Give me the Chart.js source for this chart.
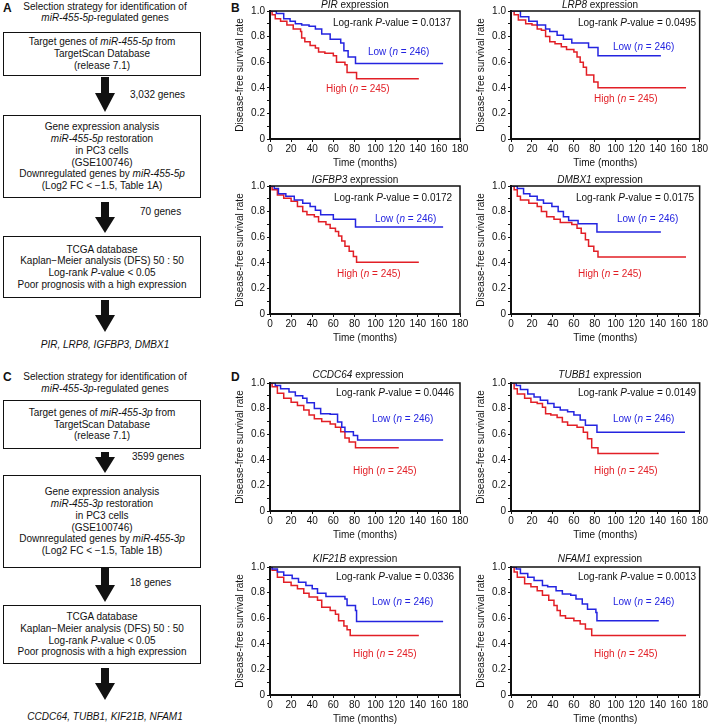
<!DOCTYPE html>
<html>
<head>
<meta charset="utf-8">
<script src="https://cdn.jsdelivr.net/npm/chart.js"></script>
<style>
  body { margin: 0; width: 709px; height: 724px; overflow: hidden; background: #fff; position: relative;
         font-family: "Liberation Sans", Arial, Helvetica, sans-serif; font-size: 10px; color: #111; }
  .t { position: absolute; white-space: nowrap; line-height: 12px; }
  .c { transform: translate(-50%, -50%); text-align: center; }
  .l { transform: translateY(-50%); }
  .box { position: absolute; left: 3px; width: 198px; border: 1.5px solid #111; box-sizing: border-box;
         display: flex; flex-direction: column; justify-content: center; align-items: center; line-height: 11.7px; white-space: nowrap; }
  .panel { position: absolute; font-weight: bold; font-size: 12px; line-height: 12px; }
  .wrap { position: absolute; }
</style>
</head>
<body>
<!-- left column: selection flowcharts -->
<div class="panel" style="left:3px;top:2px">A</div>
<div class="t c" style="left:105px;top:7px">Selection strategy for identification of</div>
<div class="t c" style="left:105px;top:18px"><i>miR-455-5p</i>-regulated genes</div>
<div class="box" style="top:32px;height:44px">
  <div>Target genes of <i>miR-455-5p</i> from</div><div>TargetScan Database</div><div>(release 7.1)</div>
</div>
<div class="t l" style="left:130px;top:95px">3,032 genes</div>
<div class="box" style="top:115px;height:83px">
  <div>Gene expression analysis</div><div><i>miR-455-5p</i> restoration</div><div>in PC3 cells</div>
  <div>(GSE100746)</div><div>Downregulated genes by <i>miR-455-5p</i></div><div>(Log2 FC &lt; −1.5, Table 1A)</div>
</div>
<div class="t l" style="left:140px;top:212px">70 genes</div>
<div class="box" style="top:236px;height:62px">
  <div>TCGA database</div><div>Kaplan−Meier analysis (DFS) 50 : 50</div>
  <div>Log-rank <i>P</i>-value &lt; 0.05</div><div>Poor prognosis with a high expression</div>
</div>
<div class="t c" style="left:105px;top:345px"><i>PIR, LRP8, IGFBP3, DMBX1</i></div>

<div class="panel" style="left:3px;top:371px">C</div>
<div class="t c" style="left:105px;top:377px">Selection strategy for identification of</div>
<div class="t c" style="left:105px;top:389px"><i>miR-455-3p</i>-regulated genes</div>
<div class="box" style="top:400px;height:49px">
  <div>Target genes of <i>miR-455-3p</i> from</div><div>TargetScan Database</div><div>(release 7.1)</div>
</div>
<div class="t l" style="left:132px;top:457px">3599 genes</div>
<div class="box" style="top:475px;height:93px">
  <div>Gene expression analysis</div><div><i>miR-455-3p</i> restoration</div><div>in PC3 cells</div>
  <div>(GSE100746)</div><div>Downregulated genes by <i>miR-455-3p</i></div><div>(Log2 FC &lt; −1.5, Table 1B)</div>
</div>
<div class="t l" style="left:130px;top:583px">18 genes</div>
<div class="box" style="top:605px;height:59px">
  <div>TCGA database</div><div>Kaplan−Meier analysis (DFS) 50 : 50</div>
  <div>Log-rank <i>P</i>-value &lt; 0.05</div><div>Poor prognosis with a high expression</div>
</div>
<div class="t c" style="left:105px;top:717px"><i>CCDC64, TUBB1, KIF21B, NFAM1</i></div>

<svg id="arrows" width="210" height="724" style="position:absolute;left:0;top:0"></svg>

<div class="panel" style="left:231px;top:2px">B</div>
<div class="panel" style="left:231px;top:371px">D</div>

<script>
// Kaplan-Meier curves: [months, survival]
const pirLow = [[0,1],[6,0.98],[13,0.94],[19,0.92],[24,0.90],[30,0.89],[37,0.88],[43,0.86],[49,0.82],[57,0.78],[67,0.75],[70,0.69],[74,0.64],[81,0.59],[164,0.59]];
const pirHigh = [[0,1],[2,0.97],[5,0.94],[10,0.92],[16,0.89],[22,0.86],[29,0.84],[30,0.79],[33,0.76],[38,0.73],[43,0.71],[46,0.68],[52,0.67],[60,0.65],[63,0.60],[71,0.58],[73,0.52],[82,0.47],[141,0.47]];

const lrp8Low = [[0,1],[9,0.955],[17,0.92],[25,0.89],[33,0.86],[37,0.84],[44,0.81],[50,0.78],[58,0.75],[74,0.715],[83,0.65],[143,0.65]];
const lrp8High = [[0,1],[3,0.97],[7,0.93],[14,0.90],[20,0.89],[25,0.86],[29,0.85],[33,0.80],[37,0.76],[42,0.745],[48,0.72],[53,0.70],[60,0.68],[63,0.64],[66,0.60],[69,0.56],[72,0.50],[79,0.445],[83,0.40],[167,0.40]];

const igfbp3Low = [[0,1],[4,0.98],[8,0.94],[15,0.92],[23,0.89],[31,0.865],[38,0.84],[43,0.81],[48,0.775],[60,0.74],[81,0.68],[164,0.68]];
const igfbp3High = [[0,1],[2,0.97],[7,0.93],[13,0.905],[20,0.88],[26,0.84],[31,0.80],[35,0.775],[42,0.76],[46,0.72],[53,0.70],[57,0.67],[62,0.645],[65,0.61],[68,0.57],[71,0.53],[75,0.49],[79,0.45],[82,0.405],[141,0.405]];

const dmbx1Low = [[0,1],[6,0.98],[12,0.94],[18,0.92],[25,0.89],[31,0.865],[39,0.84],[45,0.80],[50,0.76],[55,0.73],[64,0.705],[82,0.64],[143,0.64]];
const dmbx1High = [[0,1],[3,0.97],[6,0.92],[9,0.89],[17,0.865],[25,0.84],[29,0.80],[34,0.76],[41,0.74],[47,0.715],[58,0.70],[63,0.67],[67,0.63],[71,0.58],[74,0.53],[79,0.49],[83,0.445],[167,0.445]];

const ccdc64Low = [[0,1],[5,0.98],[10,0.955],[18,0.93],[24,0.90],[31,0.88],[35,0.845],[42,0.80],[48,0.76],[57,0.755],[64,0.695],[68,0.655],[71,0.62],[79,0.59],[83,0.555],[164,0.555]];
const ccdc64High = [[0,1],[2,0.97],[7,0.92],[13,0.88],[20,0.85],[26,0.825],[32,0.79],[37,0.75],[42,0.72],[49,0.70],[57,0.68],[62,0.655],[67,0.62],[71,0.57],[75,0.54],[81,0.495],[122,0.495]];

const tubb1Low = [[0,1],[5,0.98],[9,0.95],[16,0.915],[22,0.89],[28,0.865],[35,0.84],[41,0.81],[47,0.79],[54,0.775],[60,0.75],[66,0.71],[71,0.67],[82,0.615],[166,0.615]];
const tubb1High = [[0,1],[3,0.955],[6,0.915],[13,0.88],[19,0.85],[25,0.84],[30,0.81],[33,0.76],[38,0.75],[44,0.73],[49,0.695],[54,0.67],[63,0.655],[69,0.615],[73,0.565],[77,0.495],[83,0.45],[141,0.45]];

const kif21bLow = [[0,1],[2,0.985],[7,0.96],[13,0.935],[21,0.91],[27,0.88],[34,0.855],[40,0.83],[45,0.795],[53,0.77],[71,0.75],[73,0.70],[81,0.66],[82,0.575],[164,0.575]];
const kif21bHigh = [[0,1],[2,0.975],[7,0.92],[13,0.88],[20,0.855],[26,0.83],[32,0.795],[37,0.765],[45,0.74],[49,0.685],[57,0.66],[62,0.63],[65,0.58],[70,0.54],[73,0.51],[76,0.465],[141,0.465]];

const nfam1Low = [[0,1],[5,0.985],[9,0.95],[16,0.92],[22,0.895],[30,0.855],[35,0.845],[43,0.815],[49,0.79],[57,0.78],[62,0.75],[68,0.71],[73,0.67],[81,0.645],[82,0.58],[141,0.58]];
const nfam1High = [[0,1],[3,0.96],[6,0.92],[13,0.87],[19,0.845],[25,0.815],[30,0.78],[36,0.74],[41,0.70],[44,0.66],[47,0.62],[52,0.60],[60,0.58],[66,0.555],[71,0.515],[77,0.465],[167,0.465]];

const genes = ['PIR', 'LRP8', 'IGFBP3', 'DMBX1', 'CCDC64', 'TUBB1', 'KIF21B', 'NFAM1'];
const pValues = ['0.0137', '0.0495', '0.0172', '0.0175', '0.0446', '0.0149', '0.0336', '0.0013'];
const lowCurves = [pirLow, lrp8Low, igfbp3Low, dmbx1Low, ccdc64Low, tubb1Low, kif21bLow, nfam1Low];
const highCurves = [pirHigh, lrp8High, igfbp3High, dmbx1High, ccdc64High, tubb1High, kif21bHigh, nfam1High];
const nLow = 246;
const nHigh = 245;
const xTicks = [0, 20, 40, 60, 80, 100, 120, 140, 160, 180];

const BLUE = '#2424e0';
const RED = '#e21f26';
const INK = '#111';

// arrows between flowchart boxes: [shaft top, head start, tip]
const arrows = [[77, 93, 112], [202, 217, 233], [300, 315, 332], [452, 457, 473], [568, 585, 602], [668, 683, 700]];
const svg = document.getElementById('arrows');
arrows.forEach(([y0, yh, y1]) => {
  const cx = 105;
  const p = document.createElementNS('http://www.w3.org/2000/svg', 'polygon');
  p.setAttribute('points', `${cx - 4},${y0} ${cx + 4},${y0} ${cx + 4},${yh} ${cx + 10},${yh} ${cx},${y1} ${cx - 10},${yh} ${cx - 4},${yh}`);
  p.setAttribute('fill', INK);
  svg.appendChild(p);
});

// chart placement: wrapper left, top, width and right padding
const cols = [{ left: 229, width: 241, pr: 10 }, { left: 470, width: 239, pr: 9 }];
const rowTops = [0, 175, 372, 556];
// text positions for each panel: title centre, log-rank left, low label left, high label left (x, y)
const notes = [
  { title: [355, 5], lr: [333, 23], low: [368, 52], high: [326, 89] },
  { title: [600, 5], lr: [578, 23], low: [613, 47], high: [594, 99] },
  { title: [355, 180], lr: [334, 198], low: [375, 219], high: [337, 274] },
  { title: [600, 180], lr: [576, 198], low: [617, 219], high: [578, 274] },
  { title: [358, 375], lr: [336, 393], low: [372, 419], high: [353, 471] },
  { title: [600, 375], lr: [578, 393], low: [613, 419], high: [594, 471] },
  { title: [355, 559], lr: [336, 577], low: [372, 602], high: [353, 654] },
  { title: [600, 559], lr: [578, 577], low: [613, 602], high: [594, 654] }
];

const framePlugin = {
  id: 'frame',
  afterDatasetsDraw(chart) {
    const { ctx, chartArea: a } = chart;
    ctx.save();
    ctx.strokeStyle = INK;
    ctx.lineWidth = 1.5;
    ctx.strokeRect(a.left, a.top, a.right - a.left, a.bottom - a.top);
    ctx.restore();
  }
};

function addText(html, x, y, cls, color) {
  const d = document.createElement('div');
  d.className = 't ' + cls;
  d.style.left = x + 'px';
  d.style.top = y + 'px';
  if (color) d.style.color = color;
  d.innerHTML = html;
  document.body.appendChild(d);
}

const tickFont = { family: '"Liberation Sans", Arial, sans-serif', size: 10 };

genes.forEach((gene, i) => {
  const col = cols[i % 2];
  const top = rowTops[Math.floor(i / 2)];
  const wrap = document.createElement('div');
  wrap.className = 'wrap';
  wrap.style.left = col.left + 'px';
  wrap.style.top = top + 'px';
  const canvas = document.createElement('canvas');
  canvas.width = col.width;
  canvas.height = 169;
  wrap.appendChild(canvas);
  document.body.appendChild(wrap);

  new Chart(canvas, {
    type: 'line',
    data: {
      datasets: [
        { data: lowCurves[i].map(([x, y]) => ({ x, y })), borderColor: BLUE },
        { data: highCurves[i].map(([x, y]) => ({ x, y })), borderColor: RED }
      ].map(ds => Object.assign(ds, { stepped: 'before', borderWidth: 1.5, pointRadius: 0, fill: false }))
    },
    options: {
      responsive: false,
      animation: false,
      devicePixelRatio: 1,
      layout: { padding: { top: 11, right: col.pr, bottom: 0, left: 0 } },
      plugins: { legend: { display: false }, tooltip: { enabled: false } },
      scales: {
        x: {
          type: 'linear', min: 0, max: 180,
          afterBuildTicks: s => { s.ticks = xTicks.map(v => ({ value: v })); },
          ticks: { color: INK, font: tickFont, padding: 1, maxRotation: 0, autoSkip: false },
          grid: { drawOnChartArea: false, tickLength: 3, color: INK },
          border: { color: INK, width: 2 },
          title: { display: true, text: 'Time (months)', color: INK, font: tickFont, padding: { top: 0, bottom: 0 } },
          afterFit: s => { s.height = 30; }
        },
        y: {
          min: 0, max: 1,
          ticks: {
            stepSize: 0.1, autoSkip: false, color: INK, font: tickFont, padding: 2,
            callback: v => {
              const k = Math.round(v * 10);
              if (k % 2) return '';
              return k === 0 ? '0' : (k / 10).toFixed(1);
            }
          },
          grid: { drawOnChartArea: false, tickLength: 3, color: INK },
          border: { color: INK, width: 2 },
          title: { display: true, text: 'Disease-free survival rate', color: INK, font: tickFont, padding: { top: 5, bottom: 0 } },
          afterFit: s => { s.width = 41; }
        }
      }
    },
    plugins: [framePlugin]
  });

  const n = notes[i];
  addText(`<i>${gene}</i> expression`, n.title[0], n.title[1], 'c');
  addText(`Log-rank <i>P</i>-value = ${pValues[i]}`, n.lr[0], n.lr[1], 'l');
  addText(`Low (<i>n</i> = ${nLow})`, n.low[0], n.low[1], 'l', BLUE);
  addText(`High (<i>n</i> = ${nHigh})`, n.high[0], n.high[1], 'l', RED);
});
</script>
</body>
</html>
